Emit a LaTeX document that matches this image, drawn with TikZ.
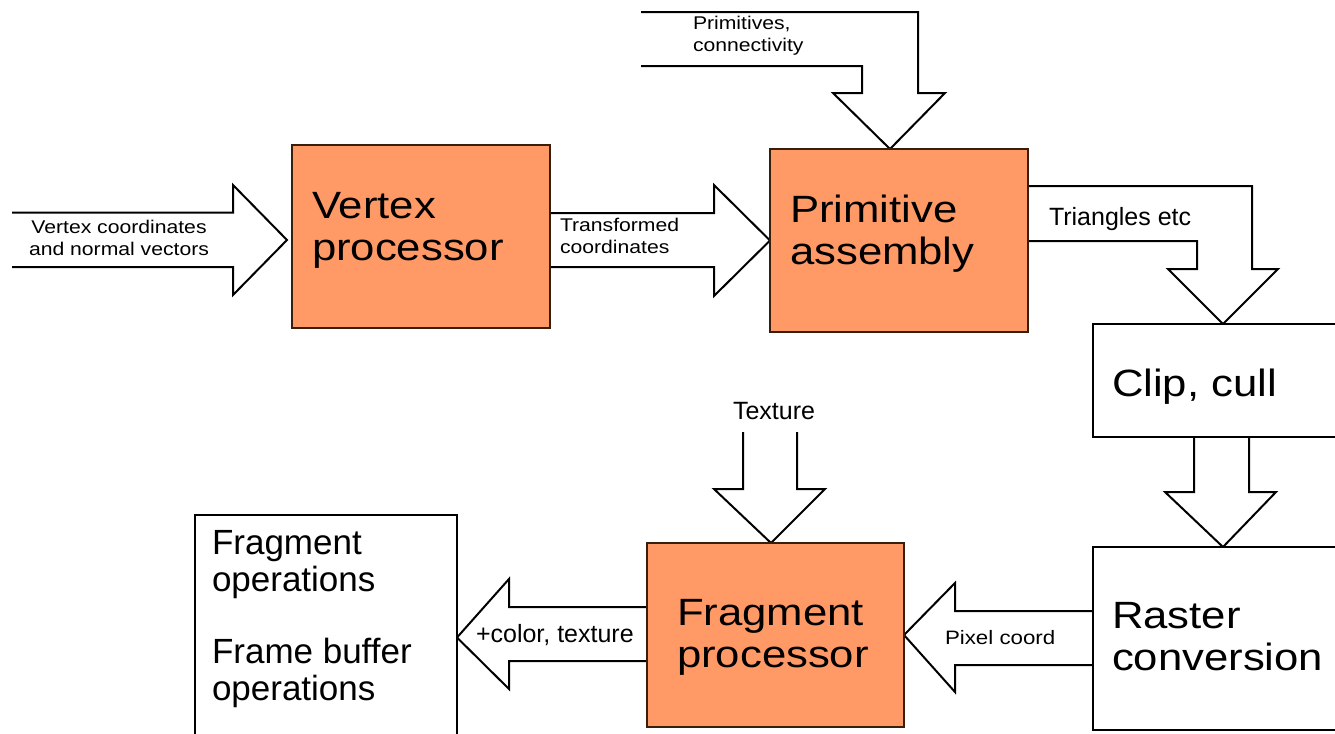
\documentclass[tikz,border=0pt]{standalone}
\usepackage{fontspec}
\setmainfont{Liberation Sans}
\newfontfamily\widesans{Liberation Sans}[FakeStretch=1.15]
\usetikzlibrary{calc,backgrounds}
\definecolor{boxorange}{HTML}{FF9966}
\definecolor{boxedge}{HTML}{3A1E0C}
\tikzset{
  box/.style={draw=black, line width=0.9pt, fill=white, inner sep=0pt, outer sep=0pt},
  obox/.style={box, draw=boxedge, fill=boxorange},
  blockarrow/.style={draw=black, line width=1pt, fill=white, line join=miter},
  txt/.style={inner sep=0pt, outer sep=0pt, anchor=base west, align=left},
  smalltxt/.style={txt, font=\widesans\fontsize{9.2}{11}\selectfont},
  medtxt/.style={txt, font=\fontsize{12.5}{14}\selectfont},
  bigtxt/.style={txt, font=\widesans\fontsize{19}{21}\selectfont},
  optxt/.style={txt, font=\fontsize{17.5}{18.5}\selectfont},
}
\begin{document}
\begin{tikzpicture}[x=0.5pt, y=-0.5pt]
\useasboundingbox (0,0) rectangle (1335,734);
\clip (0,0) rectangle (1335,734);

% boxes
\node[obox, minimum width=129pt, minimum height=91.5pt] (vp) at (421,236.5) {};
\node[obox, minimum width=129pt, minimum height=91.5pt] (pa) at (899,240.5) {};
\node[box, minimum width=130pt, minimum height=56.5pt] (cc) at (1223,380.5) {};
\node[box, minimum width=130pt, minimum height=91.5pt] (rc) at (1223,638.5) {};
\node[obox, minimum width=128.5pt, minimum height=92pt] (fp) at (775.5,635) {};
\node[box, minimum width=131pt, minimum height=122.5pt] (fo) at (326,637.5) {};

% box texts (multi-line nodes: base = baseline of last line)
\node[bigtxt] (vpt) at (312,260) {Vertex\\processor};
\node[bigtxt] (pat) at (790,264) {Primitive\\assembly};
\node[bigtxt] (cct) at (1112,396) {Clip, cull};
\node[bigtxt] (rct) at (1112,670) {Raster\\conversion};
\node[bigtxt] (fpt) at (677,667) {Fragment\\processor};
\node[optxt] (fot) at (212,700) {Fragment\\operations\\[17.5pt]Frame buffer\\operations};

% free ends
\coordinate (inA) at (12,212.5);
\coordinate (inB) at (12,267);
\coordinate (prA) at (641,12);
\coordinate (prB) at (641,66);
\coordinate (txA) at (743,432);
\coordinate (txB) at (797,432);

\begin{pgfonlayer}{background}
% input -> vertex processor
\draw[blockarrow] (inA) -- (233,212.5) -- (233,185) -- ($(vp.west)+(-5,3.5)$)
  -- (233,295) -- (233,267) -- (inB);
% vertex processor -> primitive assembly
\draw[blockarrow] (vp.east |- 0,213) -- (714,213) -- (714,185) -- (pa.west)
  -- (714,296) -- (714,267) -- (vp.east |- 0,267);
% primitives, connectivity -> primitive assembly
\draw[blockarrow] (prA) -- (918,12) -- (918,93) -- (945,93) -- ($(pa.north)+(-9,0)$)
  -- (833,93) -- (862,93) -- (862,66) -- (prB);
% primitive assembly -> clip, cull
\draw[blockarrow] (pa.east |- 0,186) -- (1252,186) -- (1252,269) -- (1278,269) -- (cc.north)
  -- (1168,269) -- (1197,269) -- (1197,241) -- (pa.east |- 0,241);
% clip, cull -> raster conversion
\draw[blockarrow] (1194,0 |- cc.south) -- (1194,492) -- (1165,492) -- (rc.north)
  -- (1276,492) -- (1249,492) -- (1249,0 |- cc.south);
% texture -> fragment processor
\draw[blockarrow] (txA) -- (743,489) -- (714,489) -- ($(fp.north)+(-4.5,0)$)
  -- (825,489) -- (797,489) -- (txB);
% raster conversion -> fragment processor
\draw[blockarrow] (rc.west |- 0,611) -- (955,611) -- (955,583) -- (fp.east)
  -- (955,692) -- (955,665) -- (rc.west |- 0,665);
% fragment processor -> fragment operations
\draw[blockarrow] (fp.west |- 0,607) -- (509,607) -- (509,579) -- (fo.east)
  -- (509,689) -- (509,661) -- (fp.west |- 0,661);
\end{pgfonlayer}

% arrow labels
\node[smalltxt, align=center, anchor=base] (l1) at (119,255) {Vertex coordinates\\and normal vectors};
\node[smalltxt] (l2) at (560,253) {Transformed\\coordinates};
\node[smalltxt] (l3) at (693,51) {Primitives,\\connectivity};
\node[medtxt] (l4) at (1049,225) {Triangles etc};
\node[medtxt] (l5) at (733,419) {Texture};
\node[smalltxt, font=\widesans\fontsize{9.7}{11}\selectfont] (l6) at (945,644) {Pixel coord};
\node[medtxt] (l7) at (476,642) {+color, texture};
\end{tikzpicture}
\end{document}
